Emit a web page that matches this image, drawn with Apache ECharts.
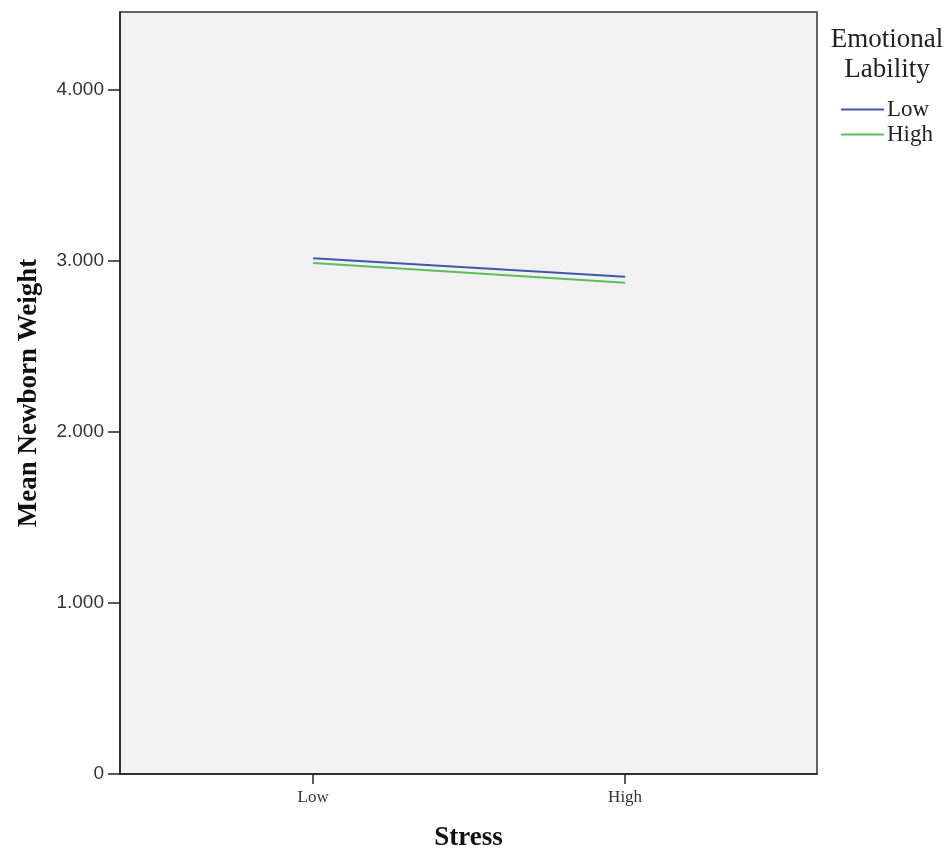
<!DOCTYPE html>
<html>
<head>
<meta charset="utf-8">
<script src="https://cdn.jsdelivr.net/npm/echarts@6/dist/echarts.min.js"></script>
<style>html,body{margin:0;padding:0;background:#fff;}#c{width:951px;height:852px;}</style>
</head>
<body>
<div id="c"></div>
<script>
const stressLevels = ['Low', 'High'];
const lowLability = [3.016, 2.908];
const highLability = [2.988, 2.873];
const yTicks = [0, 1, 2, 3, 4];

const toData = arr => arr.map((v, i) => [i, v]);
const chart = echarts.init(document.getElementById('c'));
chart.setOption({
  animation: false,
  backgroundColor: '#fff',
  grid: { left: 120, right: 134, top: 12, bottom: 78, outerBoundsMode: 'none', containLabel: false, show: true, backgroundColor: '#f2f2f2', borderColor: '#333', borderWidth: 1.5 },
  graphic: [{
    type: 'text', x: 887, y: 25,
    style: { text: 'Emotional\nLability', textAlign: 'center', font: '27px "Liberation Serif", serif', fill: '#222', lineHeight: 30 }
  }],
  legend: {
    orient: 'vertical', left: 836, top: 93, itemGap: 2,
    icon: 'rect', itemWidth: 43, itemHeight: 2,
    textStyle: { fontFamily: '"Liberation Serif", serif', fontSize: 23, color: '#222', padding: [0, 0, 0, -2] },
    data: ['Low', 'High']
  },
  xAxis: {
    type: 'value', min: -0.619, max: 1.615,
    name: 'Stress', nameLocation: 'middle', nameGap: 51,
    nameTextStyle: { fontFamily: '"Liberation Serif", serif', fontWeight: 'bold', fontSize: 27, color: '#111' },
    axisLine: { onZero: false, lineStyle: { color: '#222', width: 1.5 } },
    axisTick: { show: true, length: 10, customValues: [0, 1], lineStyle: { color: '#222', width: 1.5 } },
    axisLabel: { customValues: [0, 1], margin: 15, formatter: v => stressLevels[Math.round(v)], fontFamily: '"Liberation Serif", serif', fontSize: 17, color: '#333' },
    splitLine: { show: false }
  },
  yAxis: {
    type: 'value', min: 0, max: 4.456,
    name: 'Mean Newborn Weight', nameLocation: 'middle', nameGap: 77,
    nameTextStyle: { fontFamily: '"Liberation Serif", serif', fontWeight: 'bold', fontSize: 27, color: '#111' },
    axisLine: { show: true, onZero: false, lineStyle: { color: '#222', width: 1.5 } },
    axisTick: { show: true, length: 12, customValues: yTicks, lineStyle: { color: '#222', width: 1.5 } },
    axisLabel: { customValues: yTicks, margin: 16, formatter: v => v === 0 ? '0' : v.toFixed(3), fontFamily: '"Liberation Sans", Arial, sans-serif', fontSize: 19, color: '#333' },
    splitLine: { show: false }
  },
  series: [
    { name: 'Low', type: 'line', data: toData(lowLability), showSymbol: false, symbol: 'none', lineStyle: { color: '#4058a8', width: 2 }, itemStyle: { color: '#4058a8' } },
    { name: 'High', type: 'line', data: toData(highLability), showSymbol: false, symbol: 'none', lineStyle: { color: '#5cbf5c', width: 2 }, itemStyle: { color: '#5cbf5c' } }
  ]
});
</script>
</body>
</html>
